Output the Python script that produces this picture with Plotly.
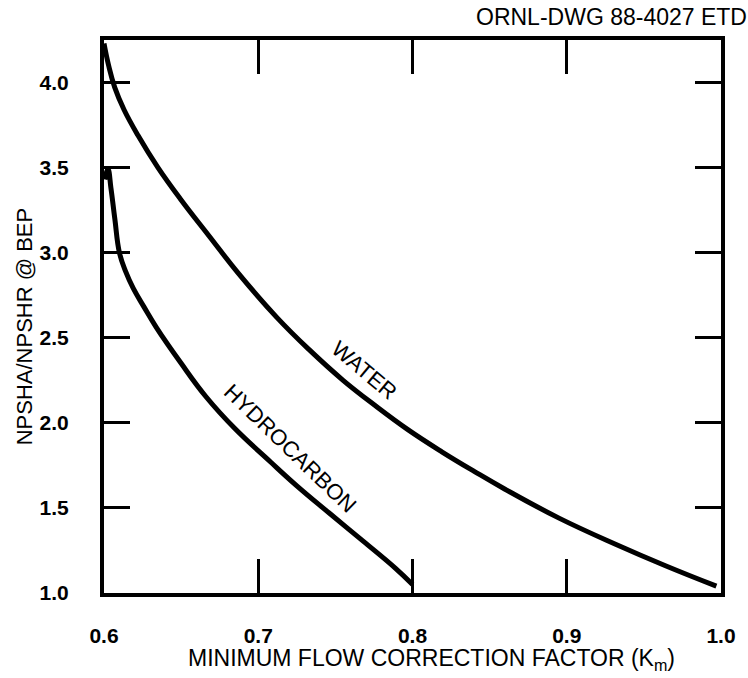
import plotly.graph_objects as go

# Data
water_x = [0.600, 0.603, 0.607, 0.613, 0.622, 0.635, 0.650, 0.668, 0.687, 0.712, 0.733,
           0.755, 0.776, 0.797, 0.819, 0.840, 0.860, 0.895, 0.932, 0.964, 0.997]
water_y = [4.23, 4.10, 3.97, 3.84, 3.69, 3.50, 3.31, 3.10, 2.88, 2.62, 2.43,
           2.25, 2.10, 1.96, 1.83, 1.715, 1.61, 1.44, 1.285, 1.16, 1.04]

hydro_x = [0.6005, 0.6026, 0.6045, 0.607, 0.610, 0.614, 0.619, 0.626, 0.634, 0.650, 0.666,
           0.685, 0.708, 0.725, 0.746, 0.768, 0.789, 0.800]
hydro_y = [3.43, 3.49, 3.38, 3.20, 3.00, 2.89, 2.79, 2.68, 2.56, 2.35, 2.155,
           1.965, 1.77, 1.63, 1.47, 1.305, 1.145, 1.05]

x_ticks = [0.6, 0.7, 0.8, 0.9, 1.0]
x_tick_labels = ["0.6", "0.7", "0.8", "0.9", "1.0"]
y_ticks = [1.0, 1.5, 2.0, 2.5, 3.0, 3.5, 4.0]
y_tick_labels = ["1.0", "1.5", "2.0", "2.5", "3.0", "3.5", "4.0"]

FONT = "Liberation Sans, Arial, sans-serif"

fig = go.Figure()
fig.add_trace(go.Scatter(x=water_x, y=water_y, mode="lines", name="WATER",
                         line=dict(color="black", width=5, shape="spline", smoothing=1.2)))
fig.add_trace(go.Scatter(x=hydro_x, y=hydro_y, mode="lines", name="HYDROCARBON",
                         line=dict(color="black", width=5, shape="spline", smoothing=1.2)))

fig.add_annotation(x=0.769, y=2.31, text="WATER", showarrow=False, textangle=40,
                   font=dict(family=FONT, size=22, color="black"))
fig.add_annotation(x=0.7206, y=1.847, text="HYDROCARBON", showarrow=False, textangle=44,
                   font=dict(family=FONT, size=22, color="black"))

fig.add_annotation(xref="paper", yref="paper", x=1.0, y=1.0, xanchor="right", yanchor="bottom",
                   xshift=28, yshift=8,
                   text="ORNL-DWG 88-4027 ETD", showarrow=False,
                   font=dict(family=FONT, size=23, color="black"))

# axis titles placed as annotations to match the reference's offsets
fig.add_annotation(xref="paper", yref="paper", x=0.530, y=-0.121, xanchor="center", yanchor="middle",
                   text="MINIMUM FLOW CORRECTION FACTOR (K<sub>m</sub>)", showarrow=False,
                   font=dict(family=FONT, size=23, color="black"))
fig.add_annotation(xref="paper", yref="paper", x=-0.129, y=0.483, xanchor="center", yanchor="middle",
                   text="NPSHA/NPSHR @ BEP", showarrow=False, textangle=-90,
                   font=dict(family=FONT, size=22, color="black"))

fig.update_layout(
    width=748, height=678,
    margin=dict(l=104, r=17, t=40, b=85),
    paper_bgcolor="white", plot_bgcolor="white",
    showlegend=False,
    font=dict(family=FONT, color="black"),
)
fig.update_xaxes(
    range=[0.6, 1.0], tickmode="array", tickvals=x_ticks, ticktext=x_tick_labels,
    ticks="inside", ticklen=34, tickwidth=3, tickcolor="black",
    showline=True, linewidth=4, linecolor="black", mirror="ticks",
    showgrid=False, zeroline=False, ticklabelstandoff=21,
    tickfont=dict(family=FONT, size=21, color="black", weight="bold"),
)
fig.update_yaxes(
    range=[1.0, 4.25], tickmode="array", tickvals=y_ticks, ticktext=y_tick_labels,
    ticks="inside", ticklen=26, tickwidth=3, tickcolor="black",
    showline=True, linewidth=4, linecolor="black", mirror="ticks",
    showgrid=False, zeroline=False, ticklabelstandoff=27,
    tickfont=dict(family=FONT, size=21, color="black", weight="bold"),
)

fig.write_html("out.html")
